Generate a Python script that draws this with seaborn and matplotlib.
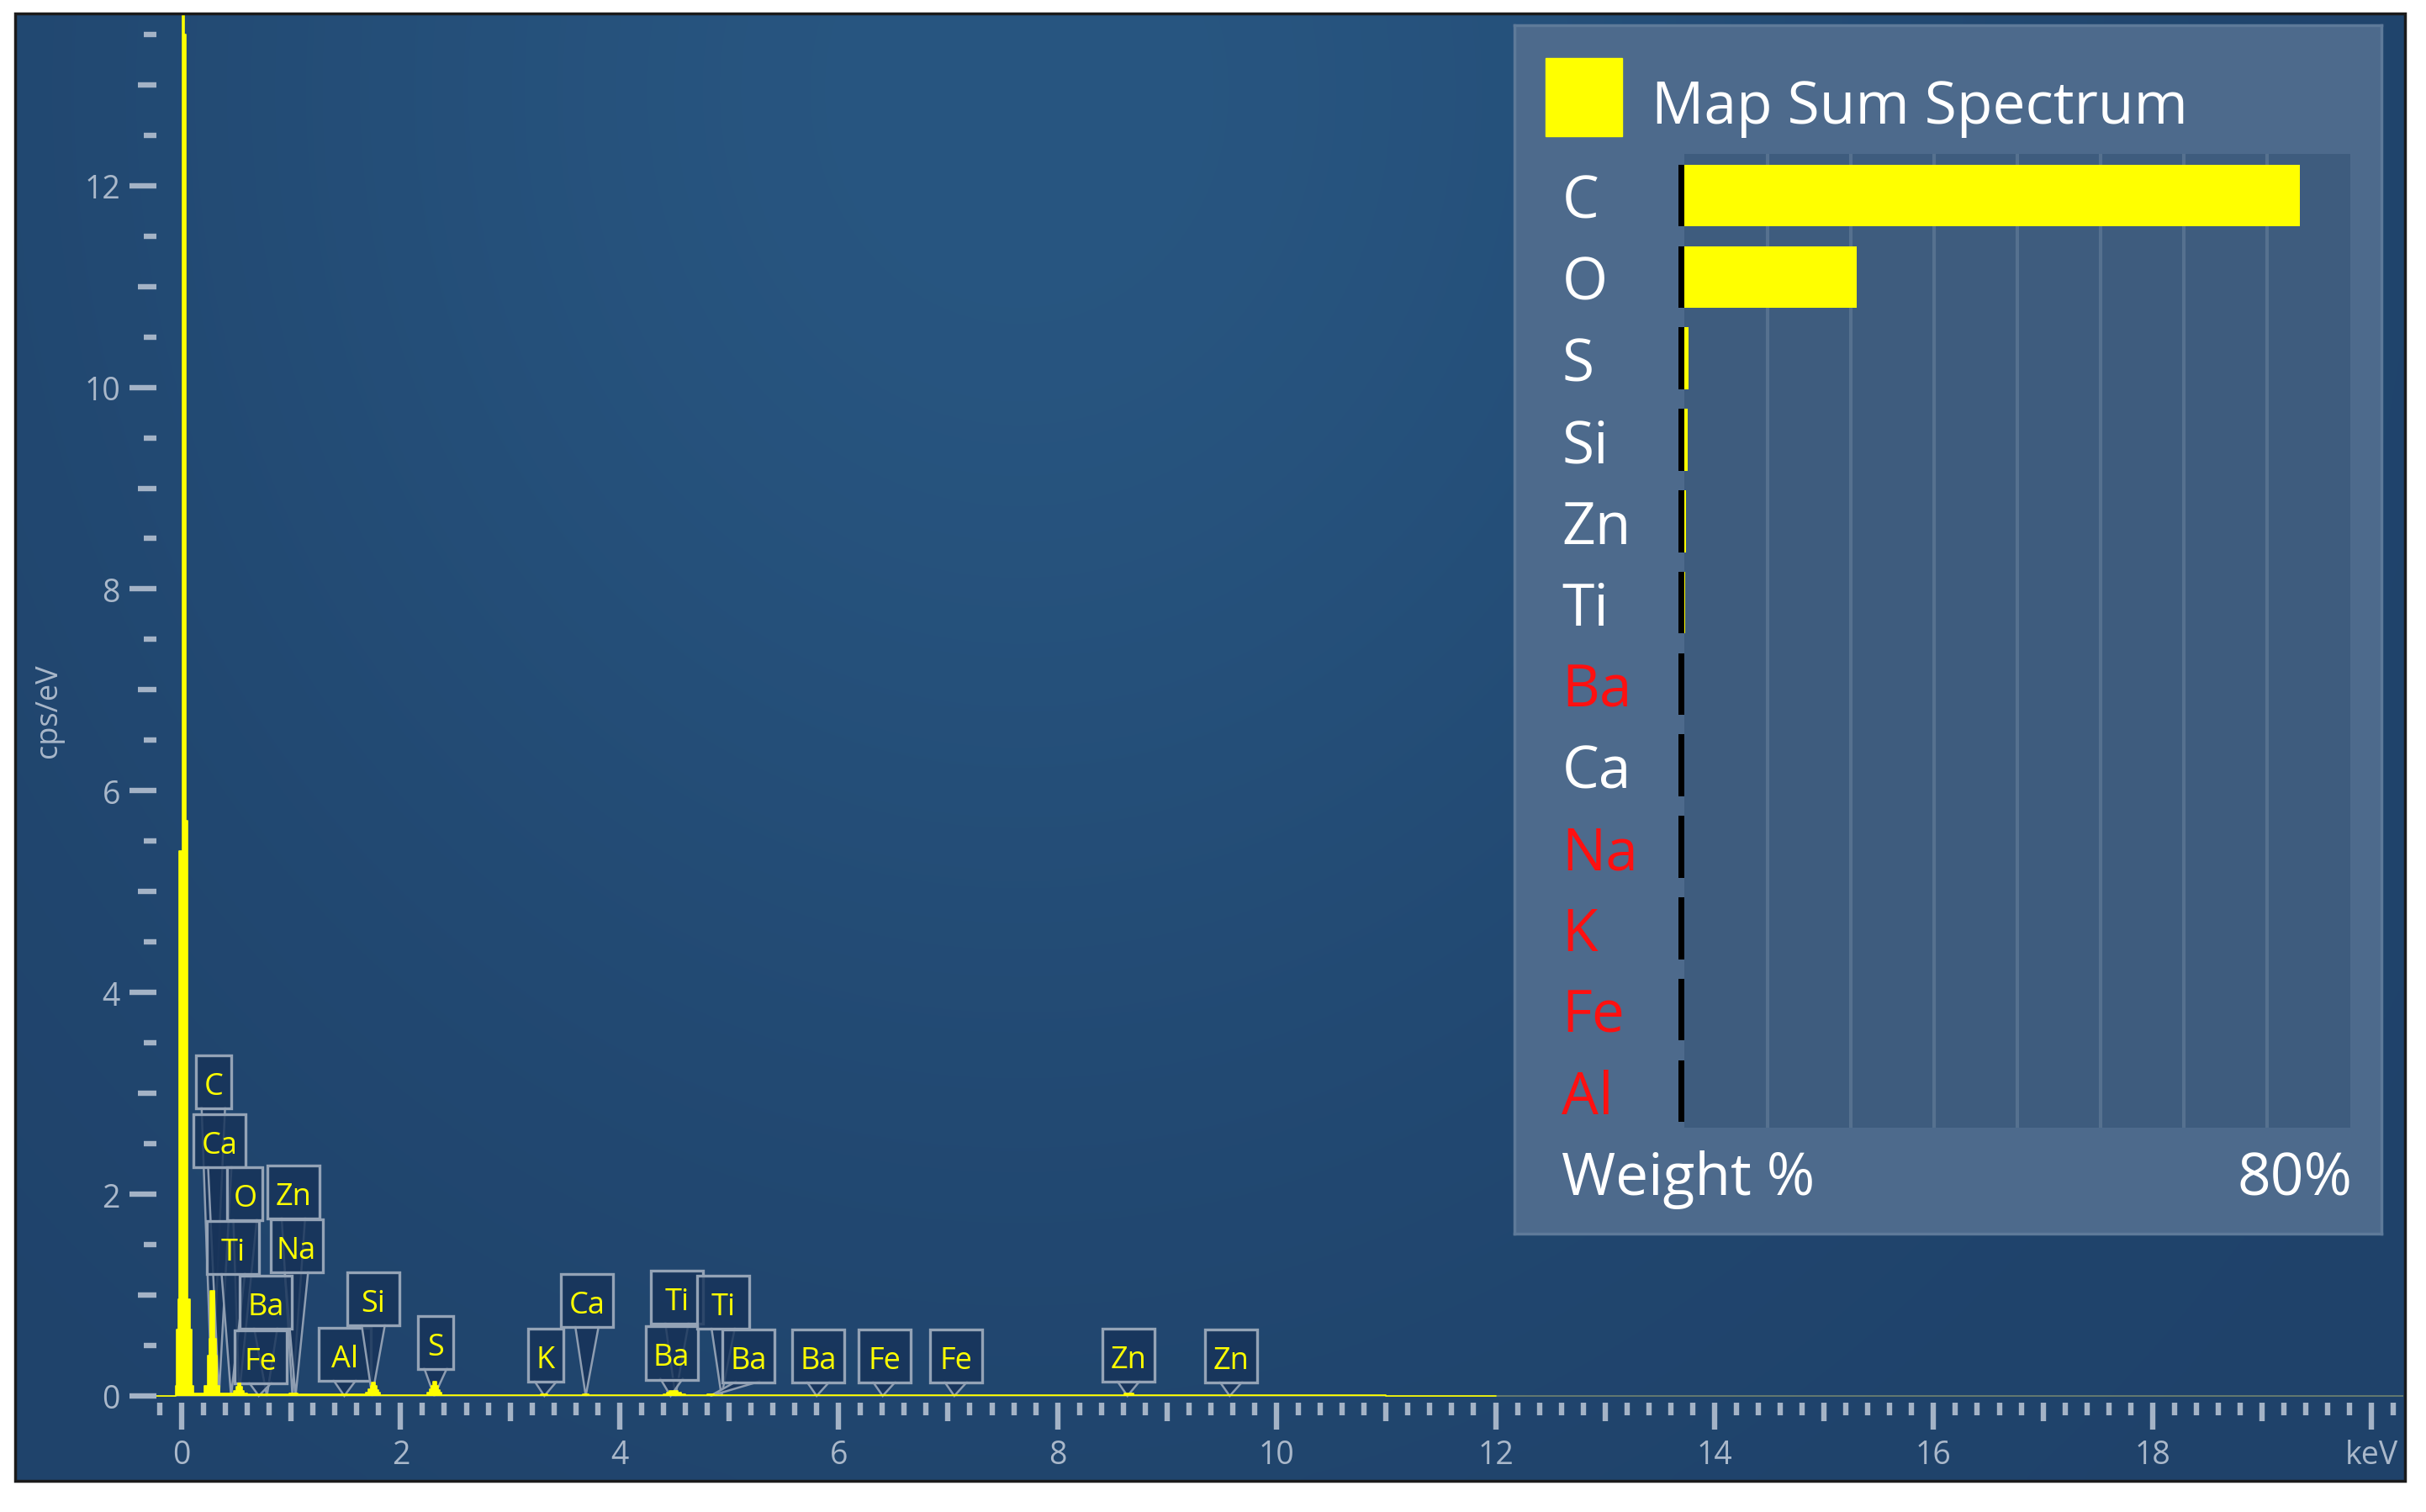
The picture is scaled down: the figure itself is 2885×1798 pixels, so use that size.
import numpy as np
import matplotlib
matplotlib.use("Agg")
import matplotlib.pyplot as plt
import matplotlib.transforms as mtransforms
from matplotlib.patches import Rectangle, Polygon
from matplotlib.ticker import FixedLocator, FuncFormatter
import seaborn as sns

# ------------------------------------------------------------------ data
# spectrum (keV, cps/eV), drawn as steps
energy_kev = [-0.23, -0.055, -0.045, -0.033, -0.02, 0.005, 0.02, 0.038, 0.056, 0.077, 0.092, 0.105,
              0.21, 0.235, 0.25, 0.262, 0.298, 0.312, 0.325, 0.345,
              0.48, 0.50, 0.512, 0.54, 0.555, 0.57, 0.60,
              0.98, 1.06, 1.46, 1.52,
              1.68, 1.705, 1.725, 1.735, 1.765, 1.78, 1.795, 1.815,
              2.24, 2.265, 2.285, 2.295, 2.325, 2.34, 2.355, 2.375,
              3.28, 3.34, 3.66, 3.72,
              4.40, 4.43, 4.455, 4.53, 4.565, 4.60,
              4.80, 4.86, 6.37, 6.44,
              8.58, 8.61, 8.69, 8.72, 9.54, 9.61, 11.0, 12.0]
intensity_cps = [0.0, 0.10, 0.66, 0.96, 5.4, 14.5, 13.5, 5.7, 0.96, 0.66, 0.10, 0.025,
                 0.10, 0.40, 0.57, 1.04, 0.57, 0.40, 0.10, 0.025,
                 0.05, 0.09, 0.125, 0.09, 0.05, 0.025, 0.015,
                 0.022, 0.014, 0.02, 0.013,
                 0.035, 0.07, 0.10, 0.13, 0.10, 0.06, 0.03, 0.012,
                 0.035, 0.07, 0.10, 0.14, 0.10, 0.06, 0.03, 0.011,
                 0.015, 0.009, 0.016, 0.009,
                 0.02, 0.035, 0.053, 0.035, 0.018, 0.009,
                 0.014, 0.008, 0.012, 0.006,
                 0.012, 0.022, 0.012, 0.005, 0.009, 0.004, 0.002, 0.0]

# peak markers
peak_labels = ["C", "Ca", "O", "Zn", "Ti", "Na", "Ba", "Fe", "Al", "Si", "S", "K",
               "Ca", "Ti", "Ba", "Ti", "Ba", "Ba", "Fe", "Fe", "Zn", "Zn"]
peak_energy = [0.277, 0.341, 0.525, 1.012, 0.452, 1.041, 0.779, 0.705, 1.486, 1.740, 2.307, 3.313,
               3.691, 4.510, 4.466, 4.931, 4.828, 5.800, 6.403, 7.057, 8.638, 9.572]
label_x = [0.290, 0.349, 0.580, 1.021, 0.472, 1.049, 0.768, 0.720, 1.490, 1.751, 2.320, 3.326,
           3.702, 4.524, 4.475, 4.946, 5.177, 5.814, 6.417, 7.071, 8.648, 9.585]
label_y = [3.115, 2.527, 2.002, 2.018, 1.468, 1.485, 0.926, 0.384, 0.409, 0.959, 0.530, 0.400,
           0.942, 0.976, 0.425, 0.926, 0.392, 0.392, 0.392, 0.392, 0.400, 0.392]

# quantification panel
elements = ["C", "O", "S", "Si", "Zn", "Ti", "Ba", "Ca", "Na", "K", "Fe", "Al"]
weight_pct = [73.9, 20.7, 0.5, 0.4, 0.2, 0.15, 0, 0, 0, 0, 0, 0]
element_flagged = [False, False, False, False, False, False, True, False, True, True, True, True]

x_major = list(range(0, 21))
y_major = list(range(0, 14))

# ------------------------------------------------------------------ style
sns.set_style("white")
plt.rcParams["font.family"] = ["Open Sans", "DejaVu Sans"]

W, H = 2885, 1799
def fx(px):
    return px / W
def fy(py):
    return 1 - py / H

TICK_C = "#a4b3c6"
LABEL_C = "#aab8ca"
YELLOW = "#ffff00"

fig = plt.figure(figsize=(W / 100, H / 100), dpi=100)
fig.patch.set_facecolor("white")

# background with soft gradient
bg = fig.add_axes([fx(18), fy(1762), fx(2860) - fx(18), fy(17) - fy(1762)], zorder=0)
ny, nx = 200, 320
u = np.linspace(0, 1, nx)[None, :]
v = np.linspace(0, 1, ny)[:, None]
f = np.exp(-((u - 0.42) ** 2 / 0.15 + (v - 0.05) ** 2 / 0.5))
dark = np.array([0x1f, 0x42, 0x6a]) / 255
light = np.array([0x28, 0x56, 0x81]) / 255
img = dark + (light - dark) * f[..., None]
bg.imshow(img, aspect="auto", extent=[0, 1, 0, 1], origin="upper", interpolation="bicubic")
bg.set_axis_off()

fig.add_artist(Rectangle((fx(18), fy(1762)), fx(2860) - fx(18), fy(17) - fy(1762),
                         transform=fig.transFigure, fill=False, edgecolor="#1b1b1b",
                         lw=2.5, zorder=20))

# ------------------------------------------------------------------ spectrum axes
ax = fig.add_axes([fx(186), fy(1669), fx(2858) - fx(186), fy(19) - fy(1669)], zorder=1)
ax.patch.set_alpha(0)
ax.set_xlim(-0.23, 20.29)
ax.set_ylim(-0.067, 13.69)

# faint baseline of the spectrum
ax.axhline(0, color="#6f8270", lw=1.2, zorder=2)

sns.lineplot(x=energy_kev, y=intensity_cps, drawstyle="steps-post", color=YELLOW,
             lw=1.2, ax=ax, zorder=10)
ax.fill_between(energy_kev, intensity_cps, step="post", color=YELLOW, lw=0, zorder=10)

kx = 1 / 130.2   # keV per pixel
ky = 1 / 119.9   # cps/eV per pixel
box_h = 63 * ky
for i, (lab, e, cx, cy) in enumerate(zip(peak_labels, peak_energy, label_x, label_y)):
    bw = (42 if len(lab) == 1 else 62) * kx
    bottom = cy - box_h / 2
    z = 5 + i * 0.01
    tri = Polygon([(cx - 14 * kx, bottom + 2 * ky), (e, 0.0), (cx + 14 * kx, bottom + 2 * ky)],
                  closed=False, facecolor=(0.09, 0.20, 0.35, 0.85), edgecolor="#8e9db1",
                  lw=1.8, zorder=z, joinstyle="miter")
    ax.add_patch(tri)
    box = Rectangle((cx - bw / 2, bottom), bw, box_h, facecolor=(0.09, 0.20, 0.35, 0.82),
                    edgecolor="#94a3b6", lw=2.4, zorder=z)
    ax.add_patch(box)
    ax.text(cx, cy - 0.12, lab, ha="center", va="baseline", color=YELLOW,
            fontsize=26, zorder=z + 0.001)

for s in ax.spines.values():
    s.set_visible(False)

ax.xaxis.set_major_locator(FixedLocator(x_major))
ax.xaxis.set_minor_locator(FixedLocator([round(-0.2 + 0.2 * k, 1) for k in range(103)]))
ax.xaxis.set_major_formatter(FuncFormatter(
    lambda val, p: "keV" if round(val) == 20 else (f"{int(round(val))}" if round(val) % 2 == 0 else "")))
ax.yaxis.set_major_locator(FixedLocator(y_major))
ax.yaxis.set_minor_locator(FixedLocator([0.5 * k for k in range(28)]))
ax.yaxis.set_major_formatter(FuncFormatter(
    lambda val, p: f"{int(round(val))}" if round(val) % 2 == 0 else ""))

ax.tick_params(axis="both", which="both", bottom=True, left=True, top=False, right=False)
ax.tick_params(axis="both", which="major", direction="out", length=23, width=4.6,
               color=TICK_C, labelcolor=LABEL_C, labelsize=27, pad=8)
ax.tick_params(axis="both", which="minor", direction="out", length=11, width=4.6, color=TICK_C)
for t, loc in zip(ax.xaxis.get_major_ticks(), x_major):
    if loc % 2:
        t.tick1line.set_markersize(16)
for t, loc in zip(ax.yaxis.get_major_ticks(), y_major):
    if loc % 2:
        t.tick1line.set_markersize(16)
ax.set_xlabel("")
ax.set_ylabel("")

fig.text(fx(58), fy(845), "cps/eV", rotation=90, ha="center", va="center",
         color=LABEL_C, fontsize=26)

# ------------------------------------------------------------------ quant panel
axp = fig.add_axes([fx(1801), fy(1468), fx(2832) - fx(1801), fy(31) - fy(1468)], zorder=2)
axp.set_facecolor("#4d6a8c")
axp.set_xticks([])
axp.set_yticks([])
for s in axp.spines.values():
    s.set_color("#5e7a99")
    s.set_linewidth(2.5)

axb = fig.add_axes([fx(2003), fy(1342), fx(2795) - fx(2003), fy(184) - fy(1342)], zorder=3)
axb.set_facecolor("#3e5c7e")
sns.barplot(x=weight_pct, y=elements, orient="h", color=YELLOW, saturation=1,
            width=0.76, errorbar=None, linewidth=0, ax=axb, zorder=2)
axb.barh(range(len(elements)), 0.75, left=-0.75, height=0.76, color="black",
         linewidth=0, clip_on=False, zorder=3)
for g in range(10, 80, 10):
    axb.axvline(g, color="#56718f", lw=3, zorder=0.5)
axb.set_xlim(0, 80)
axb.set_ylim(11.45, -0.513)
axb.set_xticks([])
axb.set_yticks([])
axb.set_xlabel("")
axb.set_ylabel("")
for s in axb.spines.values():
    s.set_visible(False)

trans = mtransforms.blended_transform_factory(axb.transAxes, axb.transData)
for i, (el, flag) in enumerate(zip(elements, element_flagged)):
    axb.text(-0.184, i + 0.27, el, transform=trans, ha="left", va="baseline",
             fontsize=50, color="#ff1010" if flag else "white", clip_on=False)

fig.add_artist(Rectangle((fx(1838), fy(163)), fx(1929) - fx(1838), fy(70) - fy(163),
                         transform=fig.transFigure, color=YELLOW, zorder=5))
fig.text(fx(1964), fy(147), "Map Sum Spectrum", ha="left", va="baseline",
         fontsize=50, color="white", zorder=5)
fig.text(fx(1857), fy(1421), "Weight %", ha="left", va="baseline",
         fontsize=50, color="white", zorder=5)
fig.text(fx(2798), fy(1421), "80%", ha="right", va="baseline",
         fontsize=50, color="white", zorder=5)

fig.savefig("out.png", dpi=100, facecolor="white")
